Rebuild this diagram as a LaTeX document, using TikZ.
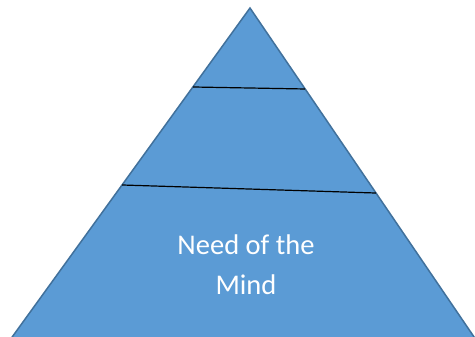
\documentclass[tikz,border=0pt]{standalone}
\usepackage{fontspec}
\setmainfont{Carlito}
\usepackage{tikz}
\usetikzlibrary{calc}
\definecolor{pyrfill}{HTML}{5B9BD5}
\definecolor{pyredge}{HTML}{41719C}
\tikzstyle{level}=[draw=pyredge,fill=pyrfill,line width=1.5pt,line join=miter]
\tikzstyle{divider}=[draw=black,line width=1.2pt]
\tikzstyle{label}=[text=white,font=\fontsize{28.5}{40}\selectfont,align=center]

\begin{document}
\begin{tikzpicture}[x=1pt,y=-1pt]
\useasboundingbox (0,0) rectangle (475,337);
\clip (0,0) rectangle (475,337);
\coordinate (apex) at (250,8);
\coordinate (bl) at (-33.4,400);
\coordinate (br) at (517,400);
\path [level] (apex) -- (br) -- (bl) -- cycle;
% level dividers
\coordinate (l1) at ($(apex)!0.2015!(bl)$);
\coordinate (r1) at ($(apex)!0.2066!(br)$);
\coordinate (l2) at ($(apex)!0.4515!(bl)$);
\coordinate (r2) at ($(apex)!0.4720!(br)$);
\draw [divider] (l1) -- (r1);
\draw [divider] (l2) -- (r2);
\node [label] (mind) at (246,265) {Need of the\\Mind};
\end{tikzpicture}
\end{document}
